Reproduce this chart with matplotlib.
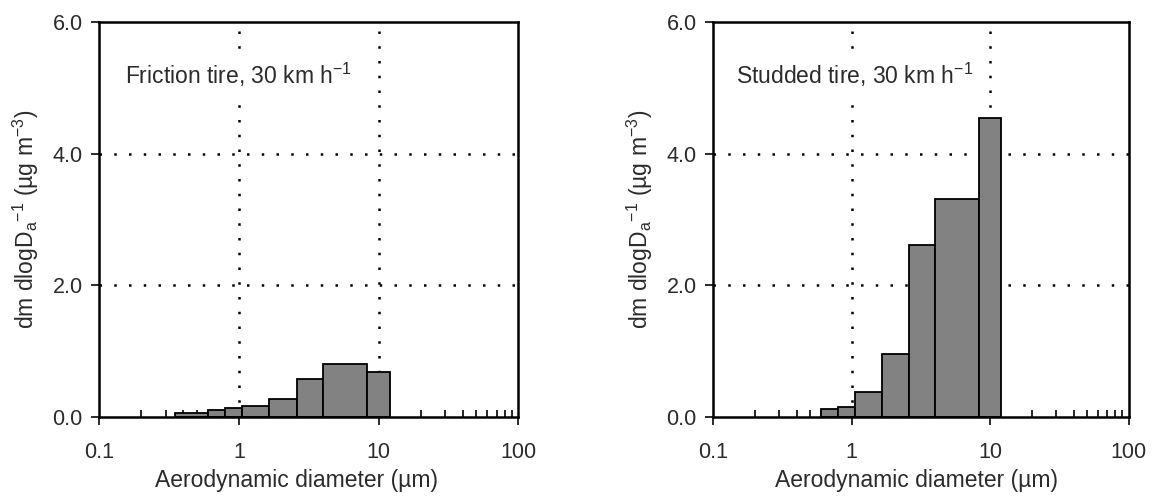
"""
Mass size distributions of road-wear particles, friction vs studded tire at 30 km/h
"""

import numpy as np
import matplotlib.pyplot as plt
from matplotlib.ticker import LogLocator, NullFormatter, FormatStrFormatter

plt.rcParams['font.family'] = ['Liberation Sans', 'DejaVu Sans']
plt.rcParams['mathtext.fontset'] = 'custom'
plt.rcParams['mathtext.rm'] = 'Liberation Sans'

# ── DATA ─────────────────────────────────────────────────────────────────────

bin_edges = [0.35, 0.6, 0.8, 1.05, 1.65, 2.6, 4.0, 8.3, 12.0]   # µm
friction = [0.06, 0.11, 0.13, 0.16, 0.28, 0.57, 0.80, 0.69]
studded = [0.0, 0.12, 0.15, 0.38, 0.96, 2.61, 3.31, 4.54]

panel_titles = ["Friction tire, 30 km h$^{\\mathregular{-1}}$",
                "Studded tire, 30 km h$^{\\mathregular{-1}}$"]
x_ticks = [0.1, 1, 10, 100]
x_ticklabels = ["0.1", "1", "10", "100"]
y_ticks = [0.0, 2.0, 4.0, 6.0]

TEXT = '#2b2b2b'
BAR = '#828282'

# ── PLOT ─────────────────────────────────────────────────────────────────────

def draw_panel(ax, values, title, title_x, xlabel_x):
    edges = np.array(bin_edges)
    vals = np.array(values)
    keep = vals > 0
    ax.bar(edges[:-1][keep], vals[keep], width=np.diff(edges)[keep], align='edge',
           color=BAR, edgecolor='black', linewidth=1.3, zorder=2)

    # dotted reference grid, behind the bars
    dots = dict(color='black', linestyle=(0, (1, 4.9)), linewidth=1.8, zorder=1)
    for x in [1, 10]:
        ax.axvline(x, **dots)
    for y in [2.0, 4.0]:
        ax.axhline(y, **dots)

    ax.set_xscale('log')
    ax.set_xlim(0.1, 100)
    ax.set_ylim(0, 6.0)
    ax.set_xticks(x_ticks)
    ax.set_xticklabels(x_ticklabels)
    ax.xaxis.set_minor_locator(LogLocator(base=10, subs=np.arange(2, 10)))
    ax.xaxis.set_minor_formatter(NullFormatter())
    ax.set_yticks(y_ticks)
    ax.yaxis.set_major_formatter(FormatStrFormatter('%.1f'))

    ax.tick_params(axis='both', which='major', direction='out', length=6,
                   width=1.4, labelsize=15.5, colors=TEXT, labelcolor=TEXT)
    ax.tick_params(axis='x', which='major', pad=12)
    ax.tick_params(axis='y', which='major', pad=6)
    ax.tick_params(axis='x', which='minor', direction='in', length=5, width=1.2)
    for s in ax.spines.values():
        s.set_linewidth(1.8)
        s.set_zorder(3)

    ax.set_xlabel("Aerodynamic diameter (µm)", fontsize=16.5, color=TEXT, labelpad=4)
    ax.xaxis.label.set_x(xlabel_x)
    ax.set_ylabel("dm dlogD$_{\\mathregular{a}}$$^{\\mathregular{-1}}$ (µg m$^{\\mathregular{-3}}$)",
                  fontsize=16.5, color=TEXT, labelpad=8)
    ax.text(title_x, 0.866, title, transform=ax.transAxes, fontsize=16.5, color=TEXT,
            va='center', ha='left', zorder=4,
            bbox=dict(facecolor='white', edgecolor='none', pad=8))


fig = plt.figure(figsize=(11.54, 5.0), dpi=100)
ax1 = fig.add_axes([0.086, 0.166, 0.363, 0.790])
ax2 = fig.add_axes([0.618, 0.166, 0.360, 0.790])

draw_panel(ax1, friction, panel_titles[0], 0.062, 0.47)
draw_panel(ax2, studded, panel_titles[1], 0.055, 0.49)

fig.savefig("out.png", dpi=100)
